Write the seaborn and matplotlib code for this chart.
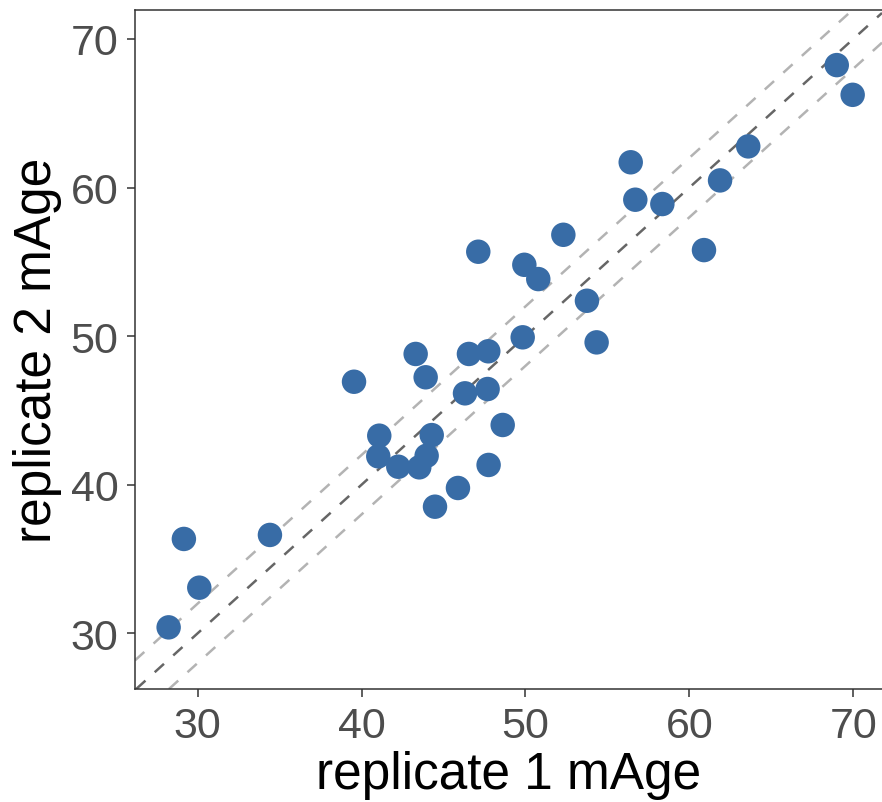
import matplotlib
matplotlib.use("Agg")
import matplotlib.pyplot as plt
import pandas as pd
import seaborn as sns

# mAge estimates for the two replicates (one point per sample)
rep1_mage = [28.23, 29.16, 30.10, 34.41, 39.54, 41.08, 41.02, 42.24, 43.30, 43.91,
             43.52, 43.97, 44.28, 44.48, 45.88, 46.31, 46.55, 47.12, 47.73, 47.69,
             47.75, 48.61, 49.83, 49.93, 50.78, 52.31, 53.75, 54.34, 56.42, 56.70,
             58.35, 60.89, 61.87, 63.59, 68.99, 69.96]
rep2_mage = [30.40, 36.35, 33.07, 36.62, 46.93, 43.30, 41.91, 41.21, 48.80, 47.23,
             41.17, 41.95, 43.34, 38.52, 39.78, 46.15, 48.80, 55.68, 48.98, 46.44,
             41.33, 44.02, 49.92, 54.80, 53.84, 56.82, 52.38, 49.58, 61.70, 59.18,
             58.89, 55.79, 60.48, 62.77, 68.24, 66.24]

# identity line and +/- band around it
ref_offsets = [0, 2, -2]
ref_colors = ["#666666", "#b3b3b3", "#b3b3b3"]

ticks = [30, 40, 50, 60, 70]

df = pd.DataFrame({"rep1": rep1_mage, "rep2": rep2_mage})

sns.set_style("white")
plt.rcParams["font.family"] = ["Liberation Sans", "DejaVu Sans"]

fig = plt.figure(figsize=(8.82, 8.03), dpi=100)
ax = fig.add_axes([0.1531, 0.1407, 0.8469, 0.846])

for off, col in zip(ref_offsets, ref_colors):
    ax.axline((0, off), slope=1, color=col, lw=1.8, ls=(0, (5, 5)), zorder=1)

sns.scatterplot(data=df, x="rep1", y="rep2", ax=ax, color="#386ca6", s=310,
                edgecolor="none", zorder=3)

ax.set_xlim(26.18, 71.75)
ax.set_ylim(26.25, 71.97)
ax.set_xticks(ticks)
ax.set_yticks(ticks)

for side in ["left", "bottom", "top"]:
    ax.spines[side].set_color("#333333")
    ax.spines[side].set_linewidth(1.1)
ax.spines["right"].set_visible(False)

ax.tick_params(axis="both", which="major", direction="out", length=6, width=1.1,
               color="#333333", labelcolor="#4d4d4d", labelsize=31, pad=6,
               bottom=True, left=True)

ax.set_xlabel("replicate 1 mAge", fontsize=37, color="black", labelpad=3)
ax.set_ylabel("replicate 2 mAge", fontsize=37, color="black", labelpad=6)

fig.savefig("out.png", dpi=100)
